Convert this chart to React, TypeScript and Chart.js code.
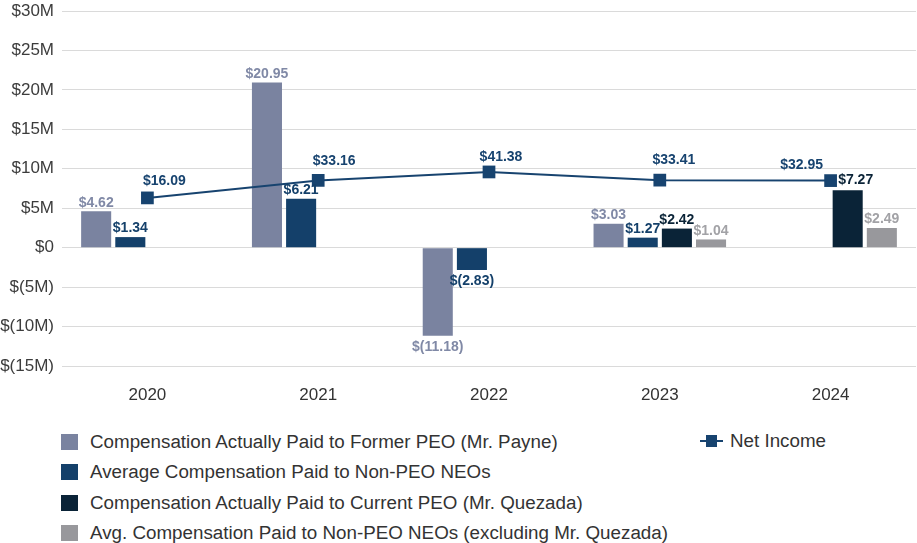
import React, { useEffect, useRef } from "react";
import { Chart, registerables } from "chart.js";

Chart.register(...registerables);

// Fiscal years on the category axis
const years = ["2020", "2021", "2022", "2023", "2024"];

// Compensation actually paid, $M
const formerPeoPay = [4.62, 20.95, -11.18, 3.03, null];
const nonPeoAvgPay = [1.34, 6.21, -2.83, 1.27, null];
const currentPeoPay = [null, null, null, 2.42, 7.27];
const nonPeoExclPay = [null, null, null, 1.04, 2.49];

// Net income, $M (plotted on its own hidden scale)
const netIncome = [16.09, 33.16, 41.38, 33.41, 32.95];

// Left axis tick values, $M
const yTickValues = [-15, -10, -5, 0, 5, 10, 15, 20, 25, 30];

const FONT = "'Liberation Sans', Arial, Helvetica, sans-serif";

const COLORS = {
  former: "#7a83a0",
  formerLabel: "#8089a6",
  nonPeo: "#14406a",
  current: "#0a2337",
  excl: "#98989c",
  exclLabel: "#a2a2a6",
  net: "#17436f",
  grid: "#dadada",
  tick: "#3c3c3c",
};

// Label nudges (px) for the net income values, relative to each marker
const netLabelOffsets: [number, number][] = [
  [17, -17],
  [16, -19],
  [12, -15],
  [14, -20],
  [-29, -15],
];

const fmt = (v: number) =>
  v < 0 ? `$(${Math.abs(v).toFixed(2)})` : `$${v.toFixed(2)}`;

const valueLabels = {
  id: "valueLabels",
  afterDatasetsDraw(chart: any) {
    const ctx = chart.ctx;
    chart.data.datasets.forEach((ds: any, di: number) => {
      const meta = chart.getDatasetMeta(di);
      if (meta.hidden) return;
      meta.data.forEach((el: any, i: number) => {
        const v = ds.data[i];
        if (v == null) return;
        ctx.save();
        ctx.font = `bold 14px ${FONT}`;
        ctx.fillStyle = ds.labelColor || ds.backgroundColor;
        ctx.textAlign = "center";
        ctx.textBaseline = "middle";
        let x = el.x;
        let y: number;
        if (meta.type === "line") {
          const off = netLabelOffsets[i] || [0, -16];
          x += off[0];
          y = el.y + off[1];
        } else {
          y = v >= 0 ? el.y - 8.5 : el.y + 11.5;
          const shift = ds.labelShift && ds.labelShift[i];
          if (shift) {
            x += shift[0];
            y += shift[1];
          }
        }
        ctx.fillText(fmt(v), x, y);
        ctx.restore();
      });
    });
  },
};

function Legend() {
  const rows = [
    { color: COLORS.former, text: "Compensation Actually Paid to Former PEO (Mr. Payne)" },
    { color: COLORS.nonPeo, text: "Average Compensation Paid to Non-PEO NEOs" },
    { color: COLORS.current, text: "Compensation Actually Paid to Current PEO (Mr. Quezada)" },
    { color: COLORS.excl, text: "Avg. Compensation Paid to Non-PEO NEOs (excluding Mr. Quezada)" },
  ];
  const textStyle: React.CSSProperties = {
    fontFamily: FONT,
    fontSize: 18.8,
    color: "#333333",
    whiteSpace: "nowrap",
    lineHeight: "22px",
  };
  return (
    <>
      {rows.map((r, i) => (
        <div
          key={r.text}
          style={{
            position: "absolute",
            left: 61,
            top: 431 + i * 30.4,
            height: 22,
            display: "flex",
            alignItems: "center",
          }}
        >
          <span style={{ width: 17, height: 16, background: r.color, display: "inline-block" }} />
          <span style={{ ...textStyle, marginLeft: 12 }}>{r.text}</span>
        </div>
      ))}
      <div
        style={{
          position: "absolute",
          left: 700,
          top: 430,
          height: 22,
          display: "flex",
          alignItems: "center",
        }}
      >
        <span style={{ position: "relative", width: 23, height: 16, display: "inline-block" }}>
          <span
            style={{ position: "absolute", left: 0, top: 7, width: 23, height: 2, background: COLORS.net }}
          />
          <span
            style={{ position: "absolute", left: 6, top: 2, width: 11, height: 12, background: COLORS.net }}
          />
        </span>
        <span style={{ ...textStyle, marginLeft: 7 }}>Net Income</span>
      </div>
    </>
  );
}

export default function App() {
  const canvasRef = useRef<HTMLCanvasElement | null>(null);

  useEffect(() => {
    if (!canvasRef.current) return;
    const chart = new Chart(canvasRef.current, {
      type: "bar",
      data: {
        labels: years,
        datasets: [
          {
            type: "line",
            label: "Net Income",
            data: netIncome,
            yAxisID: "y1",
            borderColor: COLORS.net,
            backgroundColor: COLORS.net,
            borderWidth: 2,
            pointStyle: "rect",
            pointRadius: 9,
            pointBorderWidth: 0,
            pointBackgroundColor: COLORS.net,
            tension: 0,
            order: 0,
            clip: false,
            labelColor: COLORS.net,
          } as any,
          {
            label: "Compensation Actually Paid to Former PEO (Mr. Payne)",
            data: formerPeoPay,
            backgroundColor: COLORS.former,
            labelColor: COLORS.formerLabel,
            order: 1,
          } as any,
          {
            label: "Average Compensation Paid to Non-PEO NEOs",
            data: nonPeoAvgPay,
            backgroundColor: COLORS.nonPeo,
            labelColor: COLORS.nonPeo,
            order: 1,
          } as any,
          {
            label: "Compensation Actually Paid to Current PEO (Mr. Quezada)",
            data: currentPeoPay,
            backgroundColor: COLORS.current,
            labelColor: COLORS.current,
            labelShift: [null, null, null, null, [8, -2]],
            order: 1,
          } as any,
          {
            label: "Avg. Compensation Paid to Non-PEO NEOs (excluding Mr. Quezada)",
            data: nonPeoExclPay,
            backgroundColor: COLORS.excl,
            labelColor: COLORS.exclLabel,
            order: 1,
          } as any,
        ],
      },
      options: {
        responsive: false,
        animation: false,
        devicePixelRatio: 1,
        layout: { autoPadding: false, padding: { top: 11, right: 1, left: 0, bottom: 0 } },
        datasets: {
          bar: { categoryPercentage: 0.8, barPercentage: 0.88, skipNull: false },
        } as any,
        plugins: {
          legend: { display: false },
          tooltip: { enabled: false },
        },
        scales: {
          x: {
            grid: { display: false },
            border: { display: false },
            ticks: {
              color: "#333333",
              font: { family: FONT, size: 17 },
              padding: 11,
            },
            afterFit: (s: any) => {
              s.height = 44;
              s.paddingLeft = 0;
              s.paddingRight = 0;
            },
          },
          y: {
            min: -15,
            max: 30,
            afterBuildTicks: (s: any) => {
              s.ticks = yTickValues.map((v) => ({ value: v }));
            },
            grid: { color: COLORS.grid, lineWidth: 1, drawTicks: false },
            border: { display: false },
            ticks: {
              color: COLORS.tick,
              font: { family: FONT, size: 17 },
              padding: 8,
              callback: (v: any) => {
                const n = Number(v);
                if (n === 0) return "$0";
                return n < 0 ? `$(${Math.abs(n)}M)` : `$${n}M`;
              },
            },
            afterFit: (s: any) => {
              s.width = 62;
              s.paddingTop = 0;
              s.paddingBottom = 0;
            },
          },
          y1: {
            display: false,
            position: "right",
            min: -147.7,
            max: 198.2,
            grid: { display: false },
          },
        },
      },
      plugins: [valueLabels],
    });
    return () => chart.destroy();
  }, []);

  return (
    <div
      style={{
        position: "fixed",
        left: 0,
        top: 0,
        width: 917,
        height: 543,
        background: "#ffffff",
        overflow: "hidden",
      }}
    >
      <canvas ref={canvasRef} width={917} height={410} style={{ display: "block" }} />
      <Legend />
    </div>
  );
}
